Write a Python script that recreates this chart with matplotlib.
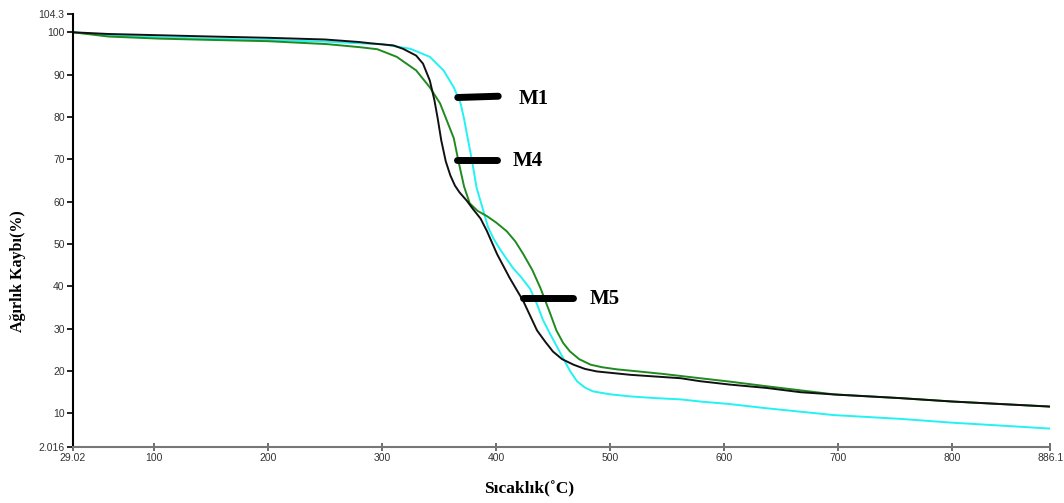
import matplotlib
matplotlib.use("Agg")
import matplotlib.pyplot as plt

# M1 (cyan)
m1_t = [29.02, 60, 105, 150, 200, 250, 280, 300, 325, 342, 354, 363, 369, 372, 375, 379, 383,
        389, 393, 398, 403, 409, 415, 422, 430, 436, 441, 447, 453, 459, 465, 471, 478, 485,
        500, 518, 540, 562, 579, 605, 637.5, 696, 754.5, 800, 850, 886.1]
m1_w = [100, 99.3, 98.8, 98.5, 98.2, 97.8, 97.4, 97.2, 96.1, 94.2, 91.0, 87.0, 83.2, 79.6, 75.3,
        69.7, 63.3, 57.8, 54.0, 51.2, 49.0, 46.6, 44.3, 42.2, 39.4, 35.8, 32.2, 29.0, 26.0,
        23.0, 20.0, 17.6, 16.1, 15.2, 14.5, 14.0, 13.6, 13.3, 12.8, 12.2, 11.2, 9.6, 8.7,
        7.8, 7.0, 6.4]
# M4 (green)
m4_t = [29.02, 60, 105, 150, 200, 252, 280, 296, 313, 330, 342, 351, 357, 363, 367, 372, 377,
        384, 392, 400, 409.5, 417, 424, 432, 439, 447, 453, 459, 465, 473, 483, 493, 506, 525,
        547, 579, 605, 637.5, 696, 754.5, 800, 850, 886.1]
m4_w = [100, 99.0, 98.5, 98.2, 97.9, 97.2, 96.5, 96.0, 94.2, 91.0, 87.0, 83.2, 79.1, 75.0, 69.7,
        63.6, 59.6, 57.8, 56.6, 55.1, 53.0, 50.6, 47.6, 43.8, 39.6, 34.0, 29.6, 26.6, 24.6,
        22.8, 21.5, 20.9, 20.4, 19.9, 19.3, 18.3, 17.5, 16.4, 14.5, 13.6, 12.8, 12.1, 11.6]
# M5 (black)
m5_t = [29.02, 60, 105, 150, 200, 250, 280, 290, 310, 318.5, 330, 336, 342, 346, 349, 352,
        356, 360, 364, 368, 374.5, 380, 386.5, 392, 401, 412, 424, 436, 443, 450, 458, 468,
        478, 488.5, 518, 562, 579, 605, 637.5, 667, 700, 754.5, 800, 850, 886.1]
m5_w = [100, 99.6, 99.3, 99.0, 98.7, 98.3, 97.7, 97.4, 96.9, 96.1, 94.5, 92.6, 88.6, 84.0, 79.5,
        74.5, 69.5, 66.2, 63.8, 62.2, 60.2, 58.2, 56.0, 53.1, 47.6, 42.0, 36.5, 29.6, 27.0,
        24.6, 22.8, 21.5, 20.5, 19.9, 19.1, 18.3, 17.6, 16.8, 16.0, 15.0, 14.4, 13.6, 12.8,
        12.1, 11.6]

x_ticks = [29.02, 100, 200, 300, 400, 500, 600, 700, 800, 886.1]
x_labels = ["29.02", "100", "200", "300", "400", "500", "600", "700", "800", "886.1"]
y_ticks = [2.016, 10, 20, 30, 40, 50, 60, 70, 80, 90, 100, 104.3]
y_labels = ["2.016", "10", "20", "30", "40", "50", "60", "70", "80", "90", "100", "104.3"]

fig = plt.figure(figsize=(10.64, 5.03), dpi=100)
ax = fig.add_axes([0.0686, 0.111, 0.9184, 0.861])

ax.plot(m1_t, m1_w, color="#22f2f2", lw=1.4)
ax.plot(m4_t, m4_w, color="#1f8a1f", lw=1.4)
ax.plot(m5_t, m5_w, color="#111111", lw=1.4)

ax.set_xlim(29.02, 886.1)
ax.set_ylim(2.016, 104.3)
ax.set_xticks(x_ticks)
ax.set_xticklabels(x_labels)
ax.set_yticks(y_ticks)
ax.set_yticklabels(y_labels)
for s in ["top", "right"]:
    ax.spines[s].set_visible(False)
ax.spines["left"].set_color("black")
ax.spines["left"].set_linewidth(1.5)
ax.spines["bottom"].set_color("#777777")
ax.spines["bottom"].set_linewidth(1.5)
ax.tick_params(axis="x", direction="inout", length=6, width=1.2, color="#555555",
               labelsize=7.5, labelcolor="#333333", pad=1)
ax.tick_params(axis="y", direction="out", length=4, width=1.2, color="black",
               labelsize=7.5, labelcolor="#333333", pad=2)
for lab in ax.get_xticklabels() + ax.get_yticklabels():
    lab.set_family("Liberation Sans")

# annotation bars and labels
serif = "Liberation Serif"
bars = [((366.5, 84.6), (402, 84.9), "M1", (420, 84.3)),
        ((366, 69.8), (401, 69.8), "M4", (415, 69.5)),
        ((424, 37.3), (468, 37.3), "M5", (482, 36.9))]
for (x0, y0), (x1, y1), txt, (tx, ty) in bars:
    ax.plot([x0, x1], [y0, y1], color="black", lw=5, solid_capstyle="round")
    ax.text(tx, ty, txt, fontsize=15, fontweight="bold", family=serif,
            va="center", ha="left")

fig.text(0.497, 0.028, "Sıcaklık(˚C)", fontsize=12.5, fontweight="bold",
         family=serif, ha="center", va="center")
fig.text(0.017, 0.46, "Ağırlık Kaybı(%)", fontsize=11.5, fontweight="bold",
         family=serif, ha="center", va="center", rotation=90)

fig.savefig("out.png", dpi=100)
